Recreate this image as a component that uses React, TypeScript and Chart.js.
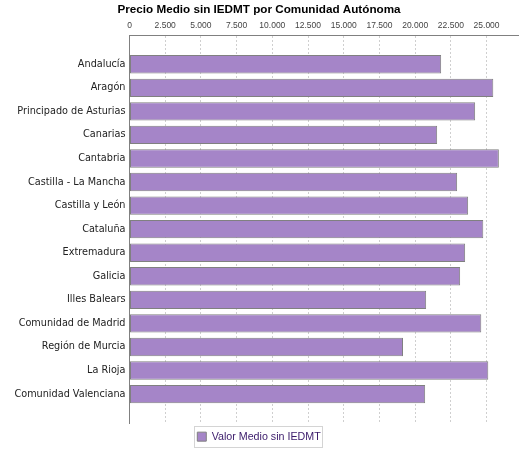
import React, { useEffect, useRef } from 'react';
import Chart from 'chart.js/auto';

// Comunidades autónomas y precio medio (sin IEDMT)
const comunidades = [
  'Andalucía',
  'Aragón',
  'Principado de Asturias',
  'Canarias',
  'Cantabria',
  'Castilla - La Mancha',
  'Castilla y León',
  'Cataluña',
  'Extremadura',
  'Galicia',
  'Illes Balears',
  'Comunidad de Madrid',
  'Región de Murcia',
  'La Rioja',
  'Comunidad Valenciana',
];

const precioMedio = [
  21820, 25470, 24200, 21540, 25860, 22940, 23710, 24770,
  23500, 23150, 20770, 24630, 19150, 25120, 20700,
];

const ejeTicks = [0, 2500, 5000, 7500, 10000, 12500, 15000, 17500, 20000, 22500, 25000];

const serieLabel = 'Valor Medio sin IEDMT';
const titulo = 'Precio Medio sin IEDMT por Comunidad Autónoma';
const ejeMax = 27200;

const fmt = (v: number) => String(v).replace(/\B(?=(\d{3})+(?!\d))/g, '.');

// marco gris alrededor de la leyenda
const legendFrame = {
  id: 'legendFrame',
  afterDraw(chart: any) {
    const legend = chart.legend;
    if (!legend || !legend.legendHitBoxes || !legend.legendHitBoxes.length) return;
    const hb = legend.legendHitBoxes[0];
    const ctx = chart.ctx;
    const cy = hb.top + hb.height / 2;
    ctx.save();
    ctx.strokeStyle = '#d4d4d4';
    ctx.lineWidth = 1;
    ctx.strokeRect(Math.round(hb.left - 3) + 0.5, Math.round(cy - 10.5) + 0.5, Math.round(hb.width + 5), 21);
    ctx.restore();
  },
};

const App = () => {
  const chartRef = useRef<HTMLCanvasElement | null>(null);

  useEffect(() => {
    document.body.style.margin = '0';
    const canvas = chartRef.current;
    if (!canvas) return;

    const chart = new Chart(canvas, {
      type: 'bar',
      data: {
        labels: comunidades,
        datasets: [
          {
            label: serieLabel,
            data: precioMedio,
            backgroundColor: 'rgb(165,133,200)',
            borderColor: '#808080',
            borderWidth: 1,
            borderSkipped: false,
            barPercentage: 0.78,
            categoryPercentage: 1,
          },
        ],
      },
      options: {
        indexAxis: 'y',
        responsive: false,
        animation: false,
        layout: { padding: { left: 0, right: 7, top: 0, bottom: -2 } },
        plugins: {
          title: {
            display: true,
            text: titulo,
            color: '#000',
            font: { family: 'Liberation Sans', size: 11.7, weight: 'bold', lineHeight: 1.2 },
            padding: { top: 2.5, bottom: 2 },
          },
          legend: {
            position: 'bottom',
            labels: {
              boxWidth: 9,
              boxHeight: 9,
              padding: 8,
              color: '#3a1a6a',
              font: { family: 'Liberation Sans', size: 10.7 },
            },
          },
          tooltip: { enabled: false },
        },
        scales: {
          x: {
            position: 'top',
            min: 0,
            max: ejeMax,
            afterBuildTicks: (s: any) => {
              s.ticks = ejeTicks.map((value) => ({ value }));
            },
            afterFit: (s: any) => {
              s.height = 16.5;
              s.paddingLeft = 0;
              s.paddingRight = 0;
            },
            ticks: {
              padding: 4,
              maxRotation: 0,
              minRotation: 0,
              autoSkip: false,
              color: '#444',
              font: { family: 'Liberation Sans', size: 8.5 },
              callback: (v: any) => fmt(Number(v)),
            },
            grid: {
              drawTicks: false,
              color: '#cfcfcf',
              lineWidth: 1,
            },
            border: { display: true, color: '#808080', dash: [2, 2] },
          },
          y: {
            afterFit: (s: any) => {
              s.width = 129.5;
            },
            afterBuildTicks: (s: any) => {
              // margen superior e inferior del eje de categorías
              s._startValue = -1.24;
              s._valueRange = comunidades.length - 1 + 2.48;
            },
            ticks: {
              padding: 4,
              color: '#222',
              font: { family: 'DejaVu Sans', size: 9.7 },
              autoSkip: false,
            },
            grid: { display: false, drawTicks: false },
            border: { display: true, color: '#808080' },
          },
        },
      },
      plugins: [legendFrame],
    });

    return () => {
      chart.destroy();
    };
  }, []);

  return (
    <div style={{ width: 525, height: 450 }}>
      <canvas ref={chartRef} width={525} height={450} style={{ display: 'block' }}></canvas>
    </div>
  );
};

export default App;
